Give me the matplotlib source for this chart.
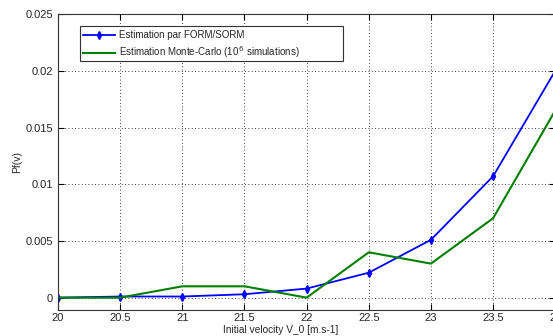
import matplotlib
matplotlib.use("Agg")
import matplotlib.pyplot as plt
from matplotlib.patches import Rectangle

plt.rcParams['font.family'] = ['Liberation Sans', 'DejaVu Sans']

v = [20, 20.5, 21, 21.5, 22, 22.5, 23, 23.5, 24]
form_sorm = [0.0, 0.0001, 0.0001, 0.0003, 0.0008, 0.0022, 0.0051, 0.0107, 0.0200]
monte_carlo = [0.0, 0.0, 0.001, 0.001, 0.0, 0.004, 0.003, 0.007, 0.0165]
xticks = [20, 20.5, 21, 21.5, 22, 22.5, 23, 23.5, 24]
yticks = [0, 0.005, 0.01, 0.015, 0.02, 0.025]
ytick_labels = ['0', '0.005', '0.01', '0.015', '0.02', '0.025']

txt = '#262626'
W, H = 553, 336
fig = plt.figure(figsize=(W / 100, H / 100), dpi=100)
ax = fig.add_axes([0.105, 0.077, 0.899, 0.881])

ax.plot(v, form_sorm, color='#0000ff', lw=1.3, marker='d', ms=4,
        label='Estimation par FORM/SORM')
ax.plot(v, monte_carlo, color='#008000', lw=1.5,
        label='Estimation Monte-Carlo (10$^{\\,6}$ simulations)')

ax.set_xlim(20, 24)
ax.set_ylim(-0.0011, 0.025)
ax.set_xticks(xticks)
ax.set_xticklabels([('%g' % t) for t in xticks])
ax.set_yticks(yticks)
ax.set_yticklabels(ytick_labels)
ax.tick_params(direction='in', labelsize=8, length=4, top=True, right=True,
               labelcolor=txt)
ax.tick_params(axis='x', pad=2)
ax.grid(True, linestyle=(0, (1, 3)), color='black', linewidth=0.6)
for s in ax.spines.values():
    s.set_linewidth(0.8)
    s.set_color('#333333')

ax.set_xlabel('Initial velocity V_0 [m.s-1]', fontsize=7.3, color=txt)
ax.xaxis.set_label_coords(0.447, -0.05)
ax.set_ylabel('Pf(v)', fontsize=7.5, color=txt)
ax.yaxis.set_label_coords(-0.072, 0.5)

# legend box (MATLAB-style with wide right padding)
box = Rectangle((80 / W, (H - 61) / H), 263 / W, 35 / H, transform=fig.transFigure,
                facecolor='white', edgecolor='#333333', linewidth=0.8,
                zorder=4.9, clip_on=False)
ax.add_patch(box)
leg = ax.legend(loc='upper left', bbox_to_anchor=(0.044, 0.957), fontsize=7,
                frameon=False, handlelength=3.3, handletextpad=0.35,
                borderpad=0.35, labelspacing=0.45, borderaxespad=0)
for t in leg.get_texts():
    t.set_color(txt)

fig.savefig('out.png', dpi=100)
